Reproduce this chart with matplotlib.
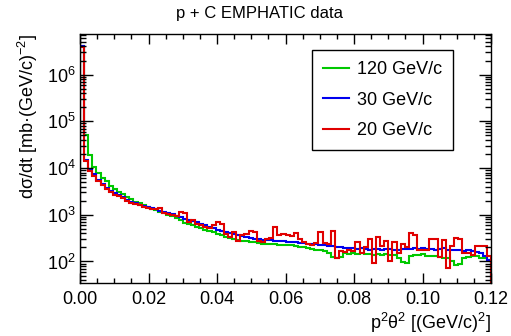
import matplotlib
matplotlib.use("Agg")
import matplotlib.pyplot as plt
from matplotlib.ticker import LogLocator, MultipleLocator, FormatStrFormatter
import numpy as np

plt.rcParams['font.family'] = ['Liberation Sans', 'DejaVu Sans']
plt.rcParams['mathtext.fontset'] = 'custom'
plt.rcParams['mathtext.rm'] = 'Liberation Sans'
plt.rcParams['mathtext.it'] = 'Liberation Sans:italic'

# histogram range and binning (100 bins of 0.0012 (GeV/c)^2)
x_min, x_max, n_bins = 0.0, 0.12, 100

labels = ["120 GeV/c", "30 GeV/c", "20 GeV/c"]
colors = ["#00c800", "#0000ee", "#e00000"]

# dsigma/dt per bin
green_120 = [
    4.0e6, 5.0e4, 1.9e4, 1.05e4, 7900, 6200, 5200, 4200, 3600, 3100,
    2800, 2400, 2150, 1900, 1750, 1600, 1480, 1360, 1260, 1170,
    1080, 1000, 930, 860, 780, 680, 640, 600, 560, 520,
    480, 450, 420, 390, 360, 335, 320, 300, 290, 275,
    270, 262, 258, 250, 240, 236, 232, 240, 228, 226,
    224, 220, 212, 205, 200, 196, 188, 180, 176, 170,
    150, 124, 118, 122, 150, 148, 152, 146, 150, 144,
    146, 140, 144, 138, 142, 140, 136, 120, 96, 94,
    132, 138, 140, 142, 134, 130, 128, 122, 120, 118,
    100, 86, 88, 120, 126, 130, 128, 120, 118, 110,
]
blue_30 = [
    4.1e6, 1.5e4, 9000, 7600, 5500, 4600, 3800, 3300, 2900, 2650,
    2350, 2100, 1900, 1800, 1650, 1550, 1450, 1380, 1300, 1220,
    1150, 1090, 1020, 960, 900, 830, 790, 740, 690, 640,
    590, 560, 510, 470, 450, 420, 400, 380, 365, 350,
    330, 320, 310, 305, 295, 290, 285, 280, 270, 268,
    262, 258, 255, 250, 246, 240, 238, 232, 228, 225,
    218, 212, 208, 200, 198, 192, 190, 186, 190, 184,
    180, 186, 182, 178, 184, 186, 180, 176, 182, 188,
    184, 190, 186, 194, 188, 182, 176, 184, 190, 180,
    174, 180, 172, 168, 176, 170, 160, 150, 130, 110,
]
red_20 = [
    3.9e6, 1.45e4, 8500, 6600, 5200, 4400, 3600, 3100, 2700, 2500,
    2250, 1950, 1800, 1700, 1600, 1500, 1420, 1330, 1300, 1380,
    1100, 1060, 1000, 960, 1150, 1100, 700, 760, 650, 600,
    560, 520, 600, 700, 650, 390, 330, 420, 280, 360,
    380, 440, 420, 280, 260, 300, 320, 560, 360, 380,
    370, 350, 410, 300, 260, 240, 220, 250, 430, 250,
    240, 460, 118, 165, 160, 175, 170, 265, 150, 200,
    300, 95, 330, 210, 280, 100, 260, 150, 240, 200,
    400, 370, 180, 180, 180, 300, 300, 125, 290, 72,
    210, 320, 310, 150, 150, 140, 210, 210, 210, 130,
]

edges = np.linspace(x_min, x_max, n_bins + 1)

fig = plt.figure(figsize=(5.11, 3.36), dpi=100)
ax = fig.add_axes([0.1566, 0.1577, 0.8044, 0.7411])

for vals, col, lab in zip([green_120, blue_30, red_20], colors, labels):
    ax.stairs(vals, edges, color=col, lw=1.5, label=lab)

ax.set_yscale("log")
ax.set_xlim(x_min, x_max)
ax.set_ylim(34.6, 7.4e6)

ax.xaxis.set_major_locator(MultipleLocator(0.02))
ax.xaxis.set_minor_locator(MultipleLocator(0.005))
ax.xaxis.set_major_formatter(FormatStrFormatter("%.2f"))
ax.yaxis.set_major_locator(LogLocator(base=10, numticks=10))
ax.yaxis.set_minor_locator(LogLocator(base=10, subs=np.arange(2, 10), numticks=10))

ax.tick_params(which="both", direction="in", top=True, right=True, labelsize=13, width=1)
ax.tick_params(which="major", length=9)
ax.tick_params(which="minor", length=4.5)
ax.tick_params(axis="x", which="major", length=7, pad=6)
ax.tick_params(axis="x", which="minor", length=3.5)
ax.tick_params(axis="y", pad=3)
for s in ax.spines.values():
    s.set_linewidth(1)

# ROOT centres the title on the whole canvas
fig.text(0.508, 0.961, "p + C EMPHATIC data", fontsize=12, ha="center", va="center")
ax.set_xlabel("p$^{2}$θ$^{2}$ [(GeV/c)$^{2}$]", fontsize=13, loc="right", labelpad=2)
ax.set_ylabel("dσ/dt [mb·(GeV/c)$^{-2}$]", fontsize=13, loc="top", labelpad=5)

leg = ax.legend(loc="upper left", bbox_to_anchor=(0.565, 0.935), fontsize=13,
                frameon=True, fancybox=False, edgecolor="black", framealpha=1,
                handlelength=1.45, handletextpad=0.45, labelspacing=0.75,
                borderpad=0.6, borderaxespad=0)
leg.get_frame().set_linewidth(1)

fig.savefig("out.png", dpi=100)
